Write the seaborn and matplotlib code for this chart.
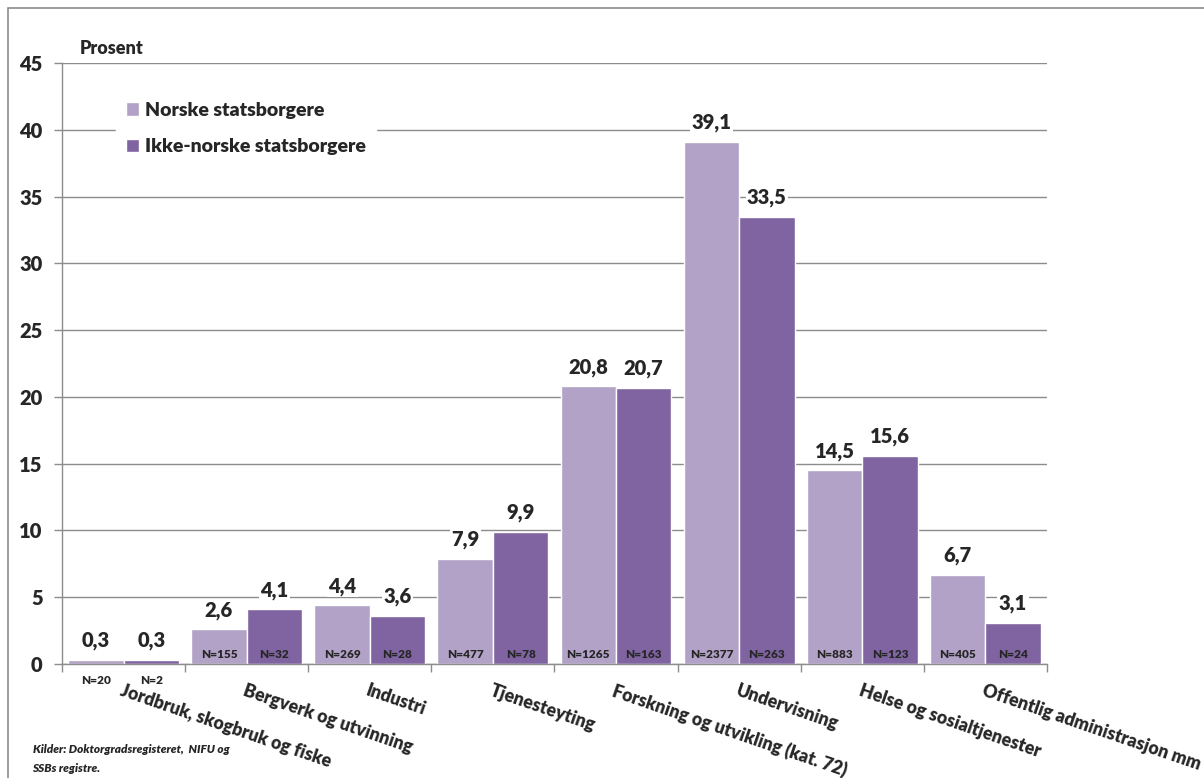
import pandas as pd
import matplotlib.pyplot as plt
import seaborn as sns
from matplotlib.patches import Rectangle
import matplotlib.transforms as mtransforms

categories = [
    "Jordbruk, skogbruk og fiske",
    "Bergverk og utvinning",
    "Industri",
    "Tjenesteyting",
    "Forskning og utvikling (kat. 72)",
    "Undervisning",
    "Helse og sosialtjenester",
    "Offentlig administrasjon mm",
]
series = ["Norske statsborgere", "Ikke-norske statsborgere"]
norske = [0.3, 2.6, 4.4, 7.9, 20.8, 39.1, 14.5, 6.7]
ikke_norske = [0.3, 4.1, 3.6, 9.9, 20.7, 33.5, 15.6, 3.1]
n_norske = [20, 155, 269, 477, 1265, 2377, 883, 405]
n_ikke_norske = [2, 32, 28, 78, 163, 263, 123, 24]
yticks = [0, 5, 10, 15, 20, 25, 30, 35, 40, 45]

colors = ["#B3A2C7", "#8064A2"]
W = "heavy"

df = pd.DataFrame({
    "kategori": categories * 2,
    "gruppe": [series[0]] * len(categories) + [series[1]] * len(categories),
    "prosent": norske + ikke_norske,
    "n": n_norske + n_ikke_norske,
})

sns.set_theme(style="white")
plt.rcParams["font.family"] = ["Lato", "DejaVu Sans"]
plt.rcParams["font.weight"] = W

fig = plt.figure(figsize=(12.04, 7.78), dpi=100)
ax = fig.add_axes([0.0515, 0.1465, 0.818, 0.7725])

sns.barplot(data=df, x="kategori", y="prosent", hue="gruppe", order=categories,
            hue_order=series, palette=colors, width=0.9, saturation=1,
            errorbar=None, ax=ax, zorder=2)

ax.set_ylim(0, 45)
ax.set_xlim(-0.5, len(categories) - 0.5)
ax.set_yticks(yticks)
ax.set_yticklabels([str(t) for t in yticks], fontsize=14.5, fontweight=W)
ax.yaxis.grid(True, color="#8c8c8c", linewidth=1)
ax.set_axisbelow(True)
ax.set_xlabel("")
ax.set_ylabel("")

ax.set_xticks([i - 0.5 for i in range(len(categories) + 1)])
ax.set_xticklabels([])
ax.tick_params(axis="x", direction="out", length=6, color="#8c8c8c", width=1, bottom=True)
ax.tick_params(axis="y", direction="out", length=6, color="#8c8c8c", width=1, left=True, pad=8)

for side in ["top", "right"]:
    ax.spines[side].set_visible(False)
for side in ["left", "bottom"]:
    ax.spines[side].set_color("#8c8c8c")
    ax.spines[side].set_linewidth(1)

# value labels and N labels
for container, counts in zip(ax.containers, [n_norske, n_ikke_norske]):
    for bar, n in zip(container, counts):
        h = bar.get_height()
        cx = bar.get_x() + bar.get_width() / 2
        ax.annotate(f"{h:.1f}".replace(".", ","), (cx, h), xytext=(0, 7),
                    textcoords="offset points", ha="center", va="bottom",
                    fontsize=14.5, fontweight=W, zorder=4,
                    bbox=dict(facecolor="white", edgecolor="none", pad=1))
        if h < 1:
            ax.annotate(f"N={n}", (cx, 0), xytext=(0, -8), textcoords="offset points",
                        ha="center", va="top", fontsize=8.5, fontweight=W)
        else:
            ax.annotate(f"N={n}", (cx, 0), xytext=(0, 3), textcoords="offset points",
                        ha="center", va="bottom", fontsize=8.5, fontweight=W, zorder=4)

# category labels, rotated like the original
trans = mtransforms.blended_transform_factory(ax.transData, ax.transAxes)
for i, cat in enumerate(categories):
    ax.text(i, -0.03, cat, transform=trans, rotation=-19, rotation_mode="anchor",
            ha="left", va="top", fontsize=12.8, fontweight=W, clip_on=False)

leg = ax.legend(loc="upper left", bbox_to_anchor=(0.045, 0.968), frameon=True,
                fancybox=False, framealpha=1, edgecolor="white", fontsize=14,
                handlelength=0.7, handleheight=0.7, handletextpad=0.3,
                labelspacing=1.0, borderpad=0.5)
for t in leg.get_texts():
    t.set_fontweight(W)

fig.text(0.066, 0.927, "Prosent", fontsize=13, fontweight=W, ha="left", va="bottom")
fig.text(0.027, 0.036, "Kilder: Doktorgradsregisteret,  NIFU og", fontsize=8.5,
         fontweight=W, style="italic", ha="left", va="center")
fig.text(0.027, 0.012, "SSBs registre.", fontsize=8.5, fontweight=W,
         style="italic", ha="left", va="center")

fig.patches.append(Rectangle((0.0065, -0.01), 1.0, 0.9997,
                             transform=fig.transFigure, fill=False,
                             edgecolor="#8c8c8c", linewidth=1.2))

fig.savefig("out.png", dpi=100)
